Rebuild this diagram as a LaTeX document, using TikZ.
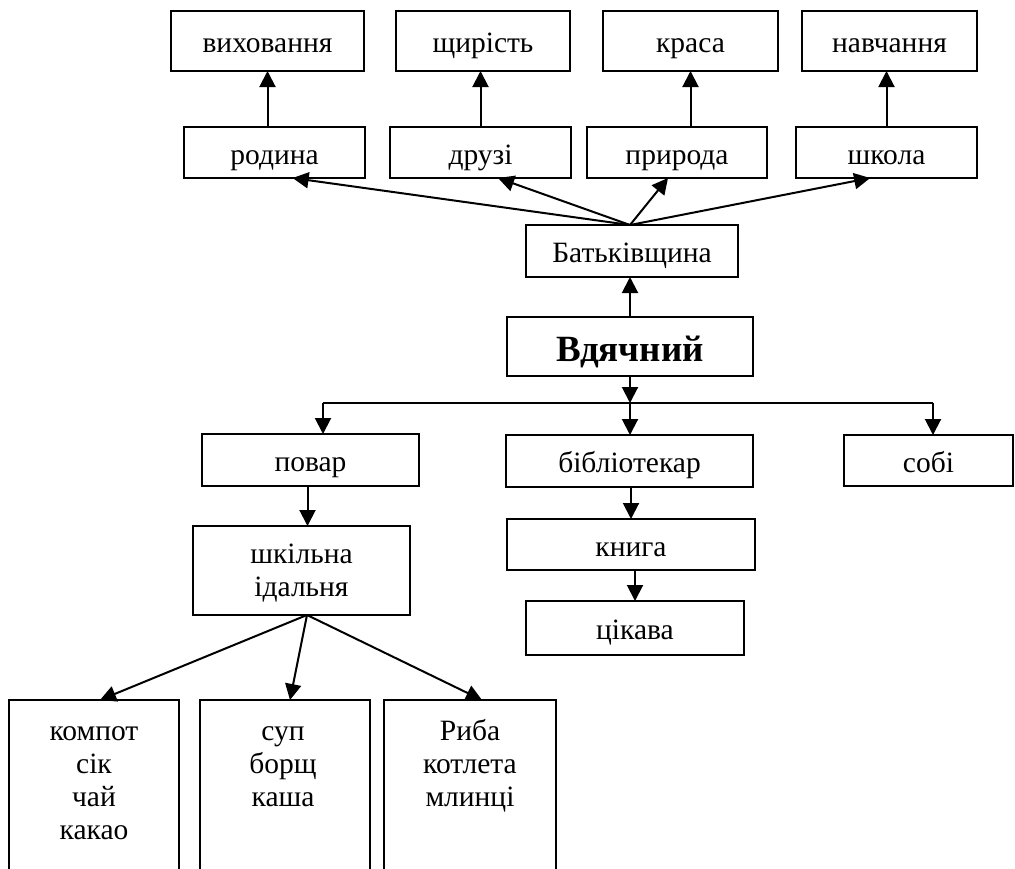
\documentclass[tikz,border=0pt]{standalone}
\usepackage{fontspec}
\setmainfont{Liberation Serif}
\usetikzlibrary{arrows.meta,calc}
\begin{document}
\begin{tikzpicture}[x=1pt,y=-1pt,
  frame/.style={draw, line width=2pt, inner sep=0pt, outer sep=0pt},
  txt/.style={font=\fontsize{29.5}{33}\selectfont},
  box/.style={frame, txt, text height=23pt, text depth=0pt},
  arr/.style={line width=2pt, -{Triangle[length=16pt,width=16pt]}},
  ln/.style={line width=2pt}]
\clip (0,0) rectangle (1015,868);
% top row
\node[box, minimum width=193pt, minimum height=60pt] (vyh) at (267.5,41) {виховання};
\node[box, minimum width=174pt, minimum height=60pt] (shch) at (483,41) {щирість};
\node[box, minimum width=175pt, minimum height=60pt] (krasa) at (690.5,41) {краса};
\node[box, minimum width=175pt, minimum height=60pt] (navch) at (889.5,41) {навчання};
% second row
\node[box, minimum width=181pt, minimum height=51pt] (rodyna) at (274.5,152.5) {родина};
\node[box, minimum width=181pt, minimum height=51pt] (druzi) at (480.5,152.5) {друзі};
\node[box, minimum width=180pt, minimum height=51pt] (pryroda) at (677,152.5) {природа};
\node[box, minimum width=181pt, minimum height=51pt] (shkola) at (886.5,152.5) {школа};
% centre
\node[box, minimum width=212pt, minimum height=52pt] (batk) at (632,251) {Батьківщина};
\node[frame, font=\fontsize{37}{42}\selectfont\bfseries, text height=30pt, text depth=0pt,
      minimum width=246pt, minimum height=59pt] (vdyach) at (630,346.5) {Вдячний};
% third row
\node[box, minimum width=217pt, minimum height=52pt] (povar) at (310.5,460) {повар};
\node[box, minimum width=247pt, minimum height=52pt] (bibl) at (629.5,461) {бібліотекар};
\node[box, minimum width=169pt, minimum height=51pt] (sobi) at (928.5,460.5) {собі};
% lower
\node[frame, minimum width=217pt, minimum height=89pt] (shk) at (301.5,570.5) {};
\node[txt, align=center, inner sep=0pt, anchor=north] (shkt) at (301.5,540) {\strut шкільна\\ідальня};
\node[box, minimum width=248pt, minimum height=51pt] (knyha) at (631,544.5) {книга};
\node[box, minimum width=218pt, minimum height=54pt] (tsikava) at (635,628) {цікава};
% bottom
\node[frame, minimum width=170pt, minimum height=250pt, anchor=north] (komp) at (94,700) {};
\node[frame, minimum width=170pt, minimum height=250pt, anchor=north] (sup) at (285,700) {};
\node[frame, minimum width=172pt, minimum height=250pt, anchor=north] (ryba) at (470,700) {};
\node[txt, align=center, inner sep=0pt, anchor=north] (kompt) at (94,717) {\strut компот\\сік\\чай\\какао};
\node[txt, align=center, inner sep=0pt, anchor=north] (supt) at (283,717) {\strut суп\\борщ\\каша};
\node[txt, align=center, inner sep=0pt, anchor=north] (rybat) at (470,717) {\strut Риба\\котлета\\млинці};
% arrows top
\draw[arr] (vyh.south |- rodyna.north) -- (vyh.south);
\draw[arr] (druzi.north) -- (druzi.north |- shch.south);
\draw[arr] (krasa.south |- pryroda.north) -- (krasa.south);
\draw[arr] (shkola.north) -- (shkola.north |- navch.south);
\coordinate (apex) at ($(batk.north)+(-2,0)$);
\draw[arr] (apex) -- ($(rodyna.south west)!0.6!(rodyna.south east)$);
\draw[arr] (apex) -- ($(druzi.south west)!0.597!(druzi.south east)$);
\draw[arr] (apex) -- ($(pryroda.south west)!0.45!(pryroda.south east)$);
\draw[arr] (apex) -- ($(shkola.south west)!0.41!(shkola.south east)$);
\draw[arr] (vdyach.north) -- (vdyach.north |- batk.south);
% hub
\coordinate (hub) at (630,403);
\coordinate (hl) at (323,403);
\coordinate (hr) at (933,403);
\draw[arr] (vdyach.south) -- (hub);
\draw[ln] (hl) -- (hr);
\draw[arr] (hl) -- (hl |- povar.north);
\draw[arr] (hub) -- (hub |- bibl.north);
\draw[arr] (hr) -- (hr |- sobi.north);
% lower arrows
\draw[arr] ($(povar.south)+(-3,0)$) -- ($(povar.south |- shk.north)+(-3,0)$);
\draw[arr] (bibl.south -| knyha.north) -- (knyha.north);
\draw[arr] (knyha.south -| tsikava.north) -- (tsikava.north);
\coordinate (sapex) at ($(shk.south)+(5.5,0)$);
\draw[arr] (sapex) -- ($(komp.north)+(6,0)$);
\draw[arr] (sapex) -- ($(sup.north)+(5,0)$);
\draw[arr] (sapex) -- ($(ryba.north)+(12,0)$);
\end{tikzpicture}
\end{document}
